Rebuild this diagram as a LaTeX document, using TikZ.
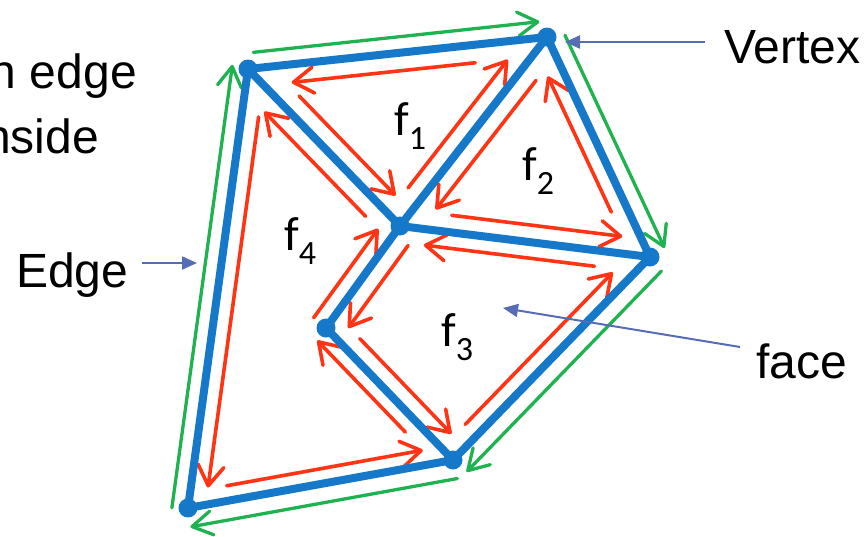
\documentclass[tikz,border=0pt]{standalone}
\usepackage{fontspec}
\setmainfont{Liberation Sans}
\newfontfamily\calibfont{Carlito}
\usetikzlibrary{arrows.meta,calc}
\definecolor{edgeblue}{RGB}{22,120,200}
\definecolor{hered}{RGB}{255,52,20}
\definecolor{hegreen}{RGB}{30,178,80}
\definecolor{lblblue}{RGB}{86,108,180}
\newcommand\halfedge[6]{\draw[#6] ($(#1.center)!#3pt!(#2.center)!#5pt!90:(#2.center)$) -- ($(#2.center)!#4pt!(#1.center)!#5pt!-90:(#1.center)$);}
\newcommand\facelbl[1]{{\calibfont\fontsize{48}{48}\selectfont f\raisebox{-14pt}{\fontsize{34}{34}\selectfont #1}}}
\begin{document}
\begin{tikzpicture}[x=1pt,y=-1pt,
  vtx/.style={circle,fill=edgeblue,inner sep=0pt,minimum size=19pt},
  edgeline/.style={draw=edgeblue,line width=8pt,line cap=round},
  redhe/.style={draw=hered,line width=3.6pt,line cap=round,-{Straight Barb[length=20pt,width=26pt,round]}},
  greenhe/.style={draw=hegreen,line width=3.3pt,line cap=round,-{Straight Barb[length=20pt,width=24pt,round]}},
  lbl/.style={draw=lblblue,line width=2pt,-{Triangle[length=15pt,width=13pt]}},
  bigtext/.style={inner sep=0pt,font=\fontsize{48}{48}\selectfont},
  facetext/.style={inner sep=0pt,anchor=base west}]
\useasboundingbox (0,0) rectangle (865,536);
\clip (0,0) rectangle (865,536);
% vertices
\node[vtx] (A) at (248,69) {};
\node[vtx] (B) at (547,37) {};
\node[vtx] (C) at (400,226) {};
\node[vtx] (D) at (650,257) {};
\node[vtx] (E) at (326,328) {};
\node[vtx] (F) at (453,460) {};
\node[vtx] (G) at (188,508) {};
% half edges, face f1
\halfedge{B}{A}{74}{42}{18}{redhe}
\halfedge{A}{C}{55}{25}{18}{redhe}
\halfedge{C}{B}{35}{42}{17}{redhe}
% face f2
\halfedge{B}{C}{41}{35}{18}{redhe}
\halfedge{C}{D}{50}{30}{17}{redhe}
\halfedge{D}{B}{57}{36}{16}{redhe}
% face f3
\halfedge{D}{C}{54}{26}{16}{redhe}
\halfedge{C}{E}{11}{13}{18}{redhe}
\halfedge{E}{F}{31}{20}{17}{redhe}
\halfedge{F}{D}{34}{37}{16}{redhe}
% face f4
\halfedge{A}{G}{46}{23}{17}{redhe}
\halfedge{G}{F}{42}{28}{15}{redhe}
\halfedge{F}{E}{53}{3}{15}{redhe}
\halfedge{E}{C}{1}{15}{16}{redhe}
\halfedge{C}{A}{31}{42}{18}{redhe}
% outer face
\halfedge{G}{A}{-2}{-2}{16}{greenhe}
\halfedge{A}{B}{7}{6}{16}{greenhe}
\halfedge{B}{D}{6}{2}{17}{greenhe}
\halfedge{D}{F}{2}{1}{18}{greenhe}
\halfedge{F}{G}{-1}{-1}{19}{greenhe}
% edges
\draw[edgeline] (A.center) -- (B.center);
\draw[edgeline] (A.center) -- (C.center);
\draw[edgeline] (B.center) -- (C.center);
\draw[edgeline] (B.center) -- (D.center);
\draw[edgeline] (C.center) -- (D.center);
\draw[edgeline] (A.center) -- (G.center);
\draw[edgeline] (C.center) -- (E.center);
\draw[edgeline] (E.center) -- (F.center);
\draw[edgeline] (F.center) -- (D.center);
\draw[edgeline] (F.center) -- (G.center);
% face labels
\node[facetext] (f1) at (394,135) {\facelbl{1}};
\node[facetext] (f2) at (522,180) {\facelbl{2}};
\node[facetext] (f3) at (441,346) {\facelbl{3}};
\node[facetext] (f4) at (284,250) {\facelbl{4}};
% texts
\node[bigtext,anchor=base west] (vertexlbl) at (724,63) {Vertex};
\node[bigtext,anchor=base west] (edgelbl) at (16,287) {Edge};
\node[bigtext,anchor=base west] (facelabel) at (756,378) {face};
\node[bigtext,anchor=base east] (halflbl) at (137,88) {n edge};
\node[bigtext,anchor=base east] (insidelbl) at (99,153) {nside};
% label arrows
\coordinate (vtail) at (705,42);
\coordinate (vtip) at (565,42);
\coordinate (etail) at (142,263);
\coordinate (etip) at (197,263);
\coordinate (ftail) at (740,347);
\coordinate (ftip) at (503,308);
\draw[lbl] (vtail) -- (vtip);
\draw[lbl] (etail) -- (etip);
\draw[lbl] (ftail) -- (ftip);
\end{tikzpicture}
\end{document}
